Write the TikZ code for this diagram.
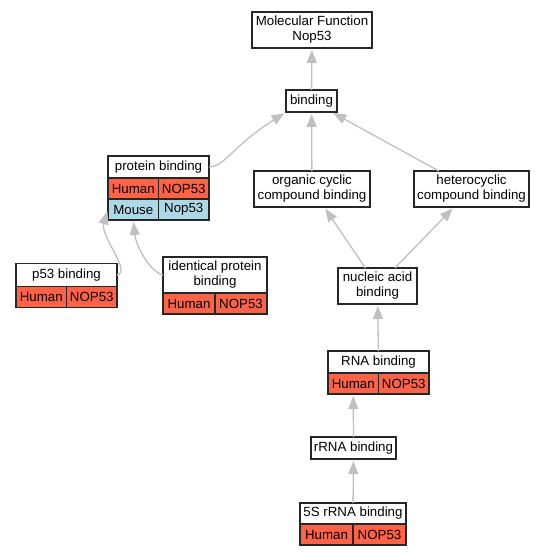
\documentclass[tikz,border=0pt]{standalone}
\usepackage{fontspec}
\setmainfont{Liberation Sans}
\usetikzlibrary{arrows.meta,positioning}
\definecolor{humanred}{RGB}{255,99,71}
\definecolor{mouseblue}{RGB}{173,216,230}
\definecolor{edgegray}{RGB}{192,192,192}

\tikzset{
    term/.style={draw=black!85, line width=1.1pt, fill=white, inner sep=0pt,
        outer sep=0pt, align=center, font=\fontsize{13.3}{15}\selectfont},
    human/.style={term, fill=humanred, minimum height=21pt},
    mouse/.style={term, fill=mouseblue, minimum height=21pt},
    isa/.style={draw=edgegray, line width=1.3pt,
        -{Triangle[length=13pt,width=10pt]}, shorten >=2pt}
}

\begin{document}
\begin{tikzpicture}[x=1pt,y=-1pt]
    \def\hh{22pt}
    \def\hb{36pt}
    \useasboundingbox (0,0) rectangle (545,557);

    % terms
    \node[term, minimum width=120pt, minimum height=\hb] (mf) at (312,30) {Molecular Function\\Nop53};
    \node[term, minimum width=51pt, minimum height=\hh] (bind) at (311.5,101) {binding};
    \node[term, minimum width=116pt, minimum height=\hb] (org) at (312,189) {organic cyclic\\compound binding};
    \node[term, minimum width=115pt, minimum height=\hb] (het) at (471.5,189) {heterocyclic\\compound binding};
    \node[term, minimum width=79pt, minimum height=\hb] (nuc) at (377.5,286) {nucleic acid\\binding};
    \node[term, minimum width=85pt, minimum height=\hh] (rrna) at (353.5,448) {rRNA binding};

    % protein binding
    \node[term, minimum width=101pt, minimum height=\hh] (prot) at (158.5,167) {protein binding};
    \node[human, minimum width=50.5pt, anchor=north east] (protH) at (prot.south) {Human};
    \node[human, minimum width=50.5pt, anchor=north west] (protHg) at (prot.south) {NOP53};
    \node[mouse, minimum width=50.5pt, anchor=north] (protM) at (protH.south) {Mouse};
    \node[mouse, minimum width=50.5pt, anchor=north] (protMg) at (protHg.south) {Nop53};

    % p53 binding
    \node[term, minimum width=101pt, minimum height=23pt] (p53) at (66.5,275) {p53 binding};
    \node[human, minimum width=50.5pt, anchor=north east] (p53H) at (p53.south) {Human};
    \node[human, minimum width=50.5pt, anchor=north west] (p53Hg) at (p53.south) {NOP53};

    % identical protein binding
    \node[term, minimum width=104pt, minimum height=\hb] (ident) at (215,275) {identical protein\\binding};
    \node[human, minimum width=52pt, anchor=north east] (identH) at (ident.south) {Human};
    \node[human, minimum width=52pt, anchor=north west] (identHg) at (ident.south) {NOP53};

    % RNA binding
    \node[term, minimum width=101pt, minimum height=\hh] (rna) at (378.5,362) {RNA binding};
    \node[human, minimum width=50.5pt, anchor=north east] (rnaH) at (rna.south) {Human};
    \node[human, minimum width=50.5pt, anchor=north west] (rnaHg) at (rna.south) {NOP53};

    % 5S rRNA binding
    \node[term, minimum width=106pt, minimum height=21pt] (s5) at (353,513.5) {5S rRNA binding};
    \node[human, minimum width=53pt, anchor=north east] (s5H) at (s5.south) {Human};
    \node[human, minimum width=53pt, anchor=north west] (s5Hg) at (s5.south) {NOP53};

    % is_a edges
    \draw[isa] (bind) -- (mf);
    \draw[isa] (org) -- (bind);
    \draw[isa] (het) -- (bind);
    \draw[isa] (prot.east) .. controls (226,166) and (230,148) .. (bind.south west);
    \draw[isa] (nuc) -- (org);
    \draw[isa] (nuc) -- (het);
    \draw[isa] (rna) -- (nuc);
    \draw[isa] (rrna) -- (rnaH);
    \draw[isa] (s5) -- (rrna);
    \draw[isa] (p53.east) .. controls (132,272) and (100,236) .. (protM.west);
    \draw[isa] (ident.west) .. controls (150,272) and (136,246) .. (protM.south);

\end{tikzpicture}
\end{document}
